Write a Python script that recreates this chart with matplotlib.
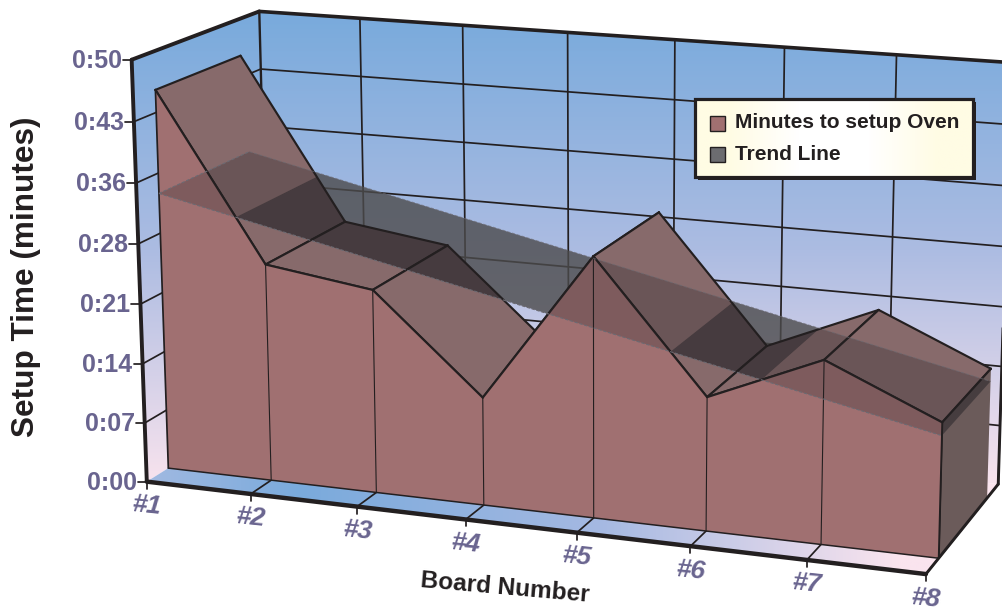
import numpy as np
import matplotlib
matplotlib.use("Agg")
import matplotlib.pyplot as plt
from matplotlib.patches import Polygon, Rectangle

plt.rcParams["font.family"] = ["Liberation Sans", "DejaVu Sans"]

boards = ["#1", "#2", "#3", "#4", "#5", "#6", "#7", "#8"]
setup_secs = [45.5, 26.0, 24.2, 12.8, 30.5, 15.6, 21.2, 15.5]
trend_ends = [33.3, 14.0]
y_ticks = ["0:00", "0:07", "0:14", "0:21", "0:28", "0:36", "0:43", "0:50"]
legend_labels = ["Minutes to setup Oven", "Trend Line"]

YMAX = 50.0
Z1, Z2 = 0.165, 0.835  # depth of the area inside the box

INK = "#231f20"
TICK_COL = "#69648f"
PINK = "#a07071"
TOP = "#876a6b"
SIDE = "#6b5b5a"
DARK = "#28262a"

# camera calibration: box corners (board, value, depth) -> pixel
anchors = [
    ((0, 0, 0), (146, 482)), ((1, 0, 0), (250, 493)), ((2, 0, 0), (357, 506)),
    ((6, 0, 0), (807, 560)), ((7, 0, 0), (926, 575)), ((0, 50, 0), (133, 60)),
    ((0, 50, 1), (258, 10)), ((1, 50, 1), (360, 19)), ((5, 50, 1), (784, 47)),
    ((6, 50, 1), (896, 55)), ((7, 50, 1), (1012, 63)), ((0, 0, 1), (271, 406)),
    ((7, 0, 1), (998, 483)),
]
A, rhs = [], []
for (X, Y, Z), (u, v) in anchors:
    A.append([X, Y, Z, 1, 0, 0, 0, 0, -u * X, -u * Y, -u * Z])
    A.append([0, 0, 0, 0, X, Y, Z, 1, -v * X, -v * Y, -v * Z])
    rhs += [u, v]
P = np.linalg.lstsq(np.array(A, float), np.array(rhs, float), rcond=None)[0]


def proj(X, Y, Z):
    w = P[8] * X + P[9] * Y + P[10] * Z + 1
    return ((P[0] * X + P[1] * Y + P[2] * Z + P[3]) / w,
            (P[4] * X + P[5] * Y + P[6] * Z + P[7]) / w)


def trend(X):
    return trend_ends[0] + (trend_ends[1] - trend_ends[0]) * X / 7.0


fig = plt.figure(figsize=(10.02, 6.10), dpi=100)
ax = fig.add_axes([0, 0, 1, 1])


def poly(pts, **kw):
    p = Polygon(pts, closed=True, **kw)
    ax.add_patch(p)
    return p


def line(a, b, lw=1.25, color=INK, **kw):
    ax.plot([a[0], b[0]], [a[1], b[1]], color=color, lw=lw, solid_capstyle="round", **kw)


# walls and floor
ys = np.linspace(0, 1, 256)
stops = [(120, 170, 220), (172, 188, 226), (250, 228, 238)]
wall = np.array([np.interp(ys, [0, 0.5, 1], [s[i] for s in stops]) for i in range(3)]).T / 255
xs = np.linspace(0, 1002, 512)
fl_stops = [(160, 185, 225), (122, 170, 220), (165, 185, 226), (250, 228, 238)]
fl = np.array([np.interp(xs, [150, 300, 600, 900], [s[i] for s in fl_stops]) for i in range(3)]).T / 255

left_wall = [proj(0, 0, 0), proj(0, 50, 0), proj(0, 50, 1), proj(0, 0, 1)]
back_wall = [proj(0, 0, 1), proj(0, 50, 1), proj(7, 50, 1), proj(7, 0, 1)]
floor = [proj(0, 0, 0), proj(7, 0, 0), proj(7, 0, 1), proj(0, 0, 1)]
for pts in (left_wall, back_wall):
    im = ax.imshow(wall[:, None, :], extent=(0, 1100, 490, 10), aspect="auto", zorder=1)
    im.set_clip_path(poly(pts, fc="none", ec="none"))
im = ax.imshow(fl[None, :, :], extent=(0, 1002, 600, 300), aspect="auto", zorder=1)
im.set_clip_path(poly(floor, fc="none", ec="none"))

# grid
for i in range(1, 8):
    v = i * YMAX / 7
    line(proj(0, v, 0), proj(0, v, 1), zorder=2)
    line(proj(0, v, 1), proj(7, v, 1), zorder=2)
    line(proj(i, 0, 0), proj(i, 0, 1), zorder=2)
    line(proj(i, 0, 1), proj(i, YMAX, 1), zorder=2)

# trend sheet behind everything
quad = [proj(0, trend(0), Z1), proj(7, trend(7), Z1), proj(7, trend(7), Z2), proj(0, trend(0), Z2 + 0.05)]
poly(quad, fc="#4c4b4c", ec="none", alpha=0.8, zorder=3)

# top faces, far to near
zo = 4
for i in range(7):
    s0, s1 = setup_secs[i], setup_secs[i + 1]
    face = [proj(i, s0, Z1), proj(i + 1, s1, Z1), proj(i + 1, s1, Z2), proj(i, s0, Z2)]
    zo += 1
    poly(face, fc=TOP, ec="none", zorder=zo)
    d0, d1 = s0 - trend(i), s1 - trend(i + 1)
    cuts = [float(i), float(i + 1)]
    if d0 * d1 < 0:
        cuts.insert(1, i + d0 / (d0 - d1))
    for xa, xb in zip(cuts[:-1], cuts[1:]):
        xm = (xa + xb) / 2
        sm = s0 + (s1 - s0) * (xm - i)
        ya, yb = s0 + (s1 - s0) * (xa - i), s0 + (s1 - s0) * (xb - i)
        part = [proj(xa, ya, Z1), proj(xb, yb, Z1), proj(xb, yb, Z2), proj(xa, ya, Z2)]
        ov = poly(quad, fc=DARK, ec="none", alpha=0.3 if sm > trend(xm) else 0.68, zorder=zo + 0.1)
        ov.set_clip_path(Polygon(part, closed=True, transform=ax.transData))
    for a, b in zip(face, face[1:] + face[:1]):
        line(a, b, lw=1.55, zorder=zo + 0.2)

# side face at the last board
last = setup_secs[-1]
side = [proj(7, 0, Z1), proj(7, last, Z1), proj(7, last, Z2), proj(7, 0, Z2)]
zo += 1
poly(side, fc=SIDE, ec="none", zorder=zo)
ov = poly(quad, fc=DARK, ec="none", alpha=0.55, zorder=zo + 0.1)
ov.set_clip_path(Polygon(side, closed=True, transform=ax.transData))
line(side[0], side[1], lw=1.55, zorder=zo + 0.2)
line(side[1], side[2], lw=1.55, zorder=zo + 0.2)

# front face
zo += 1
front = [proj(0, 0, Z1)] + [proj(i, s, Z1) for i, s in enumerate(setup_secs)] + [proj(7, 0, Z1)]
poly(front, fc=PINK, ec="none", zorder=zo)
ov = poly(quad, fc=DARK, ec="none", alpha=0.28, zorder=zo + 0.1)
ov.set_clip_path(Polygon(front, closed=True, transform=ax.transData))
for i, s in enumerate(setup_secs):
    line(proj(i, 0, Z1), proj(i, s, Z1), lw=0.8 if 0 < i < 7 else 1.25, zorder=zo + 0.2)
    if i < 7:
        line(proj(i, s, Z1), proj(i + 1, setup_secs[i + 1], Z1), lw=1.55, zorder=zo + 0.2)
line(proj(0, 0, Z1), proj(7, 0, Z1), lw=1.1, zorder=zo + 0.2)

# trend edges, dashed
dash = dict(color="#6c6a72", lw=0.8, ls=(0, (3, 1.5)), zorder=zo + 0.3)
ax.plot(*zip(quad[0], quad[1]), **dash)
ax.plot(*zip(quad[0], quad[3]), **dash)
ax.plot(*zip(quad[3], quad[2]), alpha=0.6, **dash)

# box frame
zf = zo + 1
line(proj(0, 0, 0), proj(0, 50, 0), lw=2.8, zorder=zf)
line(proj(0, 50, 0), proj(0, 50, 1), lw=2.8, zorder=zf)
line(proj(0, 50, 1), proj(7, 50, 1), lw=2.6, zorder=zf)
line(proj(0, 50, 1), proj(0, 30, 1), lw=1.7, zorder=2)
line(proj(0, 0, 0), proj(7, 0, 0), lw=3.2, zorder=zf)
line(proj(7, 0, 0), proj(7, 0, 1), lw=2.1, zorder=zf)
line(proj(7, 0, 1), proj(7, 50, 1), lw=2.1, zorder=2)

# ticks and tick labels
for i, lab in enumerate(y_ticks):
    x, y = proj(0, i * YMAX / 7, 0)
    line((x - 9, y), (x, y), lw=1.25, zorder=zf)
    ax.text(x - 10, y + 1, lab, ha="right", va="center", color=TICK_COL, fontsize=18, fontweight="bold", zorder=zf)
for i, lab in enumerate(boards):
    x, y = proj(i, 0, 0)
    line((x, y), (x, y + 7), lw=1.25, zorder=zf)
    ax.text(x, y + 24, lab, ha="center", va="center", color=TICK_COL, fontsize=19, fontweight="bold",
            fontstyle="italic", rotation=-6, zorder=zf)

ax.text(26, 277, "Setup Time (minutes)", rotation=90, ha="center", va="center", color=INK,
        fontsize=22.7, fontweight="bold")
ax.text(505, 588, "Board Number", rotation=-5, ha="center", va="center", color=INK,
        fontsize=17.6, fontweight="bold")

# legend
zl = zf + 1
ax.add_patch(Rectangle((698, 102), 278, 78, fc=INK, ec="none", zorder=zl))
ax.add_patch(Rectangle((695, 99), 278, 78, fc="white", ec="none", zorder=zl + 0.05))
cream = np.array([[255, 252, 228], [255, 255, 255], [255, 255, 255], [255, 252, 228]]) / 255
im = ax.imshow(cream[None, :, :], extent=(695, 973, 177, 99), aspect="auto", interpolation="bilinear", zorder=zl + 0.1)
ax.add_patch(Rectangle((695, 99), 278, 78, fc="none", ec=INK, lw=2.3, zorder=zl + 0.3))
swatches = [PINK, "#6c6c70"]
for k, (lab, col) in enumerate(zip(legend_labels, swatches)):
    yc = 123 + k * 31.5
    ax.add_patch(Rectangle((710, yc - 7.5), 15, 15, fc=col, ec=INK, lw=1.0, zorder=zl + 0.4))
    ax.text(735, yc, lab, ha="left", va="center", color=INK, fontsize=15, fontweight="bold", zorder=zl + 0.4)

ax.set_xlim(0, 1002)
ax.set_ylim(610, 0)
ax.axis("off")
fig.savefig("out.png", dpi=100)
